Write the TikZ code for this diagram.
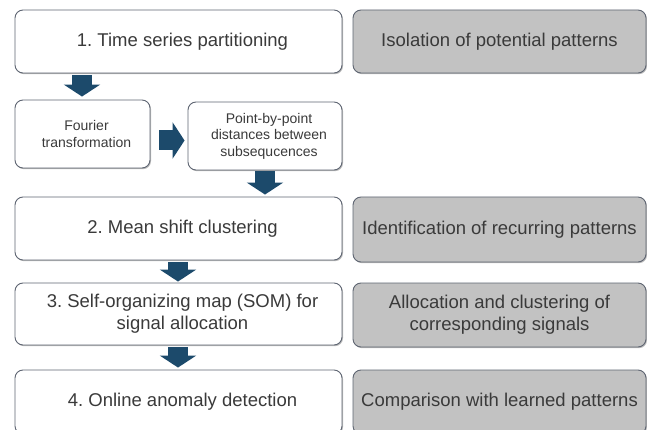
\documentclass[tikz,border=0pt]{standalone}
\usepackage{fontspec}
\setmainfont{Liberation Sans}
\usetikzlibrary{arrows.meta,shadows}
\frenchspacing
\definecolor{edgegray}{HTML}{5E6572}
\definecolor{panelgray}{HTML}{C2C2C2}
\definecolor{txtgray}{HTML}{3A3A3A}
\definecolor{arrowblue}{HTML}{1C4A6B}
% lines in the step boxes sit slightly right of the box centre
\newcommand{\rs}{\hspace*{8pt}}
\tikzset{
  basebox/.style={draw=edgegray, line width=0.9pt, rounded corners=8pt,
    align=center, text=txtgray, inner sep=2pt,
    drop shadow={shadow xshift=1pt, shadow yshift=-1.2pt, opacity=0.45, fill=black!60},
    font=\fontsize{18.5}{22}\selectfont},
  stepbox/.style={basebox, fill=white},
  smallbox/.style={stepbox, font=\fontsize{14}{16.5}\selectfont},
  notebox/.style={basebox, fill=panelgray},
  flow/.style={draw=arrowblue, line width=20pt, line cap=butt,
    -{Triangle[width=36pt,length=12pt]}},
}
\begin{document}
\begin{tikzpicture}[x=1pt,y=-1pt]
\useasboundingbox (0,0) rectangle (647,430);

% left column: processing steps
\node[stepbox, minimum width=327pt, minimum height=63pt] (s1) at (178.5,41.5)
  {\rs 1. Time series partitioning};
\node[smallbox, minimum width=135pt, minimum height=68pt] (ft) at (82.5,134)
  {\rs Fourier\\\rs transformation};
\node[smallbox, minimum width=154pt, minimum height=68pt] (pd) at (265,136)
  {\rs Point-by-point\\\rs distances between\\\rs subsequcences};
\node[stepbox, minimum width=327pt, minimum height=63pt] (s2) at (178.5,228.5)
  {\rs 2. Mean shift clustering};
\node[stepbox, minimum width=327pt, minimum height=62pt] (s3) at (178.5,314)
  {\rs 3. Self-organizing map (SOM) for\\\rs signal allocation};
\node[stepbox, minimum width=327pt, minimum height=64pt] (s4) at (178.5,402)
  {\rs 4. Online anomaly detection};

% right column: purpose of each step
\node[notebox, minimum width=293pt, minimum height=63pt] (n1) at (499.5,41.5)
  {Isolation of potential patterns};
\node[notebox, minimum width=293pt, minimum height=65pt] (n2) at (499.5,229.5)
  {Identification of recurring patterns};
\node[notebox, minimum width=293pt, minimum height=64pt] (n3) at (499.5,315)
  {Allocation and clustering of\\corresponding signals};
\node[notebox, minimum width=293pt, minimum height=64pt] (n4) at (499.5,402)
  {Comparison with learned patterns};

% block arrows between the steps
\coordinate (a1) at (82,0);
\coordinate (a2) at (265,0);
\coordinate (a3) at (178,0);
\coordinate (ah) at (0,140.5);
\draw[flow, shorten <=2pt, shorten >=3pt] (s1.south -| a1) -- (ft.north -| a1);
\draw[flow, shorten <=9pt, shorten >=3pt] (ft.east |- ah) -- (pd.west |- ah);
\draw[flow, shorten <=1pt, shorten >=2pt] (pd.south -| a2) -- (s2.north -| a2);
\draw[flow, shorten <=2pt, shorten >=1pt] (s2.south -| a3) -- (s3.north -| a3);
\draw[flow, shorten <=2pt, shorten >=2pt] (s3.south -| a3) -- (s4.north -| a3);
\end{tikzpicture}
\end{document}
